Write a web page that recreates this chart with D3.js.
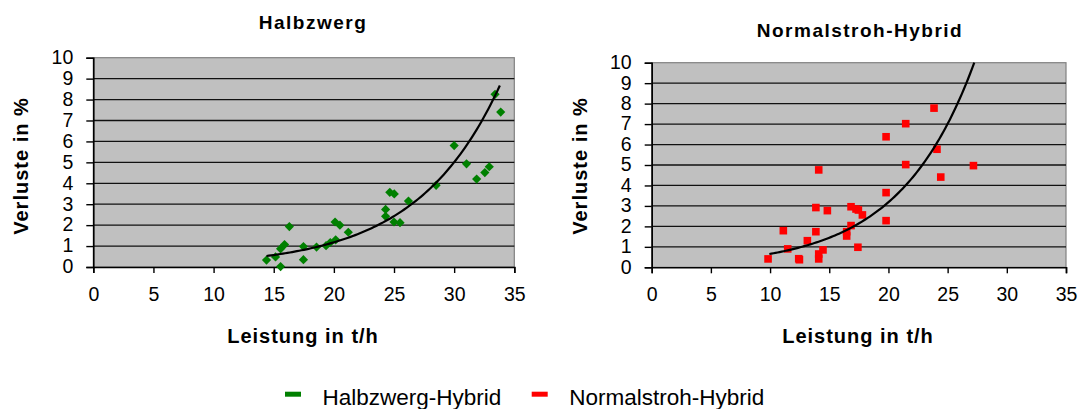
<!DOCTYPE html>
<html>
<head>
<meta charset="utf-8">
<script src="https://cdn.jsdelivr.net/npm/d3@7/dist/d3.min.js"></script>
<style>
  html, body { margin: 0; padding: 0; background: #fff; }
  svg { display: block; }
  text { font-family: "Liberation Sans", Arial, sans-serif; fill: #000; }
</style>
</head>
<body>
<svg id="chart" width="1083" height="409"></svg>
<script>
// Axis ticks shared by both panels
const xTicks = [0, 5, 10, 15, 20, 25, 30, 35];
const yTicks = [0, 1, 2, 3, 4, 5, 6, 7, 8, 9, 10];

// Halbzwerg-Hybrid: throughput (t/h) and losses (%)
const halbzwergLeistung = [14.4, 15.15, 15.57, 15.57, 15.9, 16.3, 17.47, 17.47, 18.56, 19.35,
  19.7, 20.15, 20.1, 20.5, 21.2, 24.3, 24.3, 24.65, 25.02, 25.0,
  25.5, 26.2, 28.5, 30.0, 31.03, 31.87, 32.55, 32.92, 33.4, 33.87];
const halbzwergVerluste = [0.33, 0.48, 0.02, 0.87, 1.07, 1.93, 0.98, 0.35, 0.95, 1.02,
  1.17, 1.3, 2.15, 2.0, 1.66, 2.75, 2.42, 3.57, 3.49, 2.15,
  2.12, 3.15, 3.9, 5.8, 4.93, 4.2, 4.51, 4.79, 8.25, 7.4];

// Normalstroh-Hybrid: throughput (t/h) and losses (%)
const normalstrohLeistung = [9.83, 11.12, 11.49, 12.42, 12.48, 13.15, 13.87, 13.87, 14.11, 14.11,
  14.11, 14.47, 14.84, 16.47, 16.47, 16.84, 16.84, 17.26, 17.46, 17.8,
  17.42, 19.8, 19.8, 19.8, 21.46, 21.46, 23.85, 24.1, 24.42, 27.18];
const normalstrohVerluste = [0.41, 1.79, 0.9, 0.42, 0.37, 1.3, 2.92, 1.74, 4.76, 0.65,
  0.41, 0.85, 2.77, 1.74, 1.53, 2.04, 2.96, 2.85, 2.8, 2.56,
  0.98, 6.38, 3.65, 2.28, 7.02, 5.02, 7.78, 5.77, 4.41, 4.97];

// Exponential trend lines y = a * exp(b * x), drawn over [from, to]
const halbzwergTrend = { a: 0.0654, b: 0.1446, from: 14.4, to: 33.8 };
const normalstrohTrend = { a: 0.135, b: 0.158, from: 9.94, to: 27.25 };

const seriesNames = ["Halbzwerg-Hybrid", "Normalstroh-Hybrid"];
const seriesColors = ["#008000", "#ff0000"];

const svg = d3.select("#chart");

function drawPanel(opt) {
  const g = svg.append("g");
  const x = d3.scaleLinear().domain([0, 35]).range([opt.left, opt.right]);
  const y = d3.scaleLinear().domain([0, 10]).range([opt.bottom, opt.top]);

  // plot area
  g.append("rect")
    .attr("x", opt.left).attr("y", opt.top)
    .attr("width", opt.right - opt.left).attr("height", opt.bottom - opt.top)
    .attr("fill", "#c0c0c0").attr("stroke", "#808080").attr("stroke-width", 1.2);

  // horizontal gridlines
  g.selectAll("line.grid").data(yTicks.filter(v => v > 0 && v < 10)).join("line")
    .attr("class", "grid")
    .attr("x1", opt.left).attr("x2", opt.right)
    .attr("y1", d => y(d)).attr("y2", d => y(d))
    .attr("stroke", "#111").attr("stroke-width", 1.3);

  // axes
  const yAxis = d3.axisLeft(y).tickValues(yTicks).tickSize(7).tickPadding(13).tickFormat(d3.format("d"));
  const xAxis = d3.axisBottom(x).tickValues(xTicks).tickSize(6).tickPadding(14).tickFormat(d3.format("d"));

  const ya = g.append("g").attr("transform", `translate(${opt.left},0)`).call(yAxis);
  const xa = g.append("g").attr("transform", `translate(0,${opt.bottom})`).call(xAxis);
  [ya, xa].forEach(a => {
    a.select(".domain").attr("stroke", "#000").attr("stroke-width", 1.6);
    a.selectAll(".tick line").attr("stroke", "#000").attr("stroke-width", 1.4);
    a.selectAll("text").attr("font-size", "19.5px").attr("font-family", "Liberation Sans, Arial, sans-serif").attr("fill", "#000");
  });
  ya.selectAll("text").attr("dy", "0.3em");
  xa.selectAll("text").attr("dy", "0.71em");

  // data points
  const pts = opt.xs.map((v, i) => [v, opt.ys[i]]);
  if (opt.marker === "diamond") {
    g.selectAll("path.pt").data(pts).join("path")
      .attr("class", "pt")
      .attr("d", d3.symbol(d3.symbolDiamond2, 54)())
      .attr("transform", d => `translate(${x(d[0])},${y(d[1])})`)
      .attr("fill", opt.color);
  } else {
    g.selectAll("rect.pt").data(pts).join("rect")
      .attr("class", "pt")
      .attr("x", d => x(d[0]) - 3.8).attr("y", d => y(d[1]) - 3.8)
      .attr("width", 7.6).attr("height", 7.6)
      .attr("fill", opt.color);
  }

  // trend line
  const t = opt.trend;
  const tx = d3.range(0, 101).map(i => t.from + (t.to - t.from) * i / 100);
  g.append("path")
    .datum(tx.map(v => [v, Math.min(10, t.a * Math.exp(t.b * v))]))
    .attr("d", d3.line().x(d => x(d[0])).y(d => y(d[1])))
    .attr("fill", "none").attr("stroke", "#000").attr("stroke-width", 2.2);

  // titles
  g.append("text").attr("x", opt.titleX).attr("y", opt.titleY)
    .attr("text-anchor", "middle").attr("font-size", "19px").attr("font-weight", "bold")
    .attr("letter-spacing", "1.5px").text(opt.title);
  g.append("text").attr("x", opt.xTitleX).attr("y", 343)
    .attr("text-anchor", "middle").attr("font-size", "20px").attr("font-weight", "bold")
    .attr("letter-spacing", "1px").text("Leistung in t/h");
  g.append("text")
    .attr("transform", `translate(${opt.yTitleX},166) rotate(-90)`)
    .attr("text-anchor", "middle").attr("font-size", "20px").attr("font-weight", "bold")
    .attr("letter-spacing", "1px").text("Verluste in %");
}

drawPanel({
  left: 93.3, right: 514.3, top: 57.7, bottom: 267,
  xs: halbzwergLeistung, ys: halbzwergVerluste, marker: "diamond", color: seriesColors[0],
  trend: halbzwergTrend, title: "Halbzwerg", titleX: 313, titleY: 28.5,
  xTitleX: 303, yTitleX: 28
});

drawPanel({
  left: 651.7, right: 1066, top: 62.7, bottom: 267.3,
  xs: normalstrohLeistung, ys: normalstrohVerluste, marker: "square", color: seriesColors[1],
  trend: normalstrohTrend, title: "Normalstroh-Hybrid", titleX: 860, titleY: 37,
  xTitleX: 858, yTitleX: 587
});

// legend
const legendX = [285, 531.7];
const legend = svg.append("g");
seriesNames.forEach((name, i) => {
  legend.append("rect").attr("x", legendX[i]).attr("y", 391.7)
    .attr("width", 16).attr("height", 5).attr("fill", seriesColors[i]);
  legend.append("text").attr("x", legendX[i] + 37.5).attr("y", 405)
    .attr("font-size", "22.5px").text(name);
});
</script>
</body>
</html>
